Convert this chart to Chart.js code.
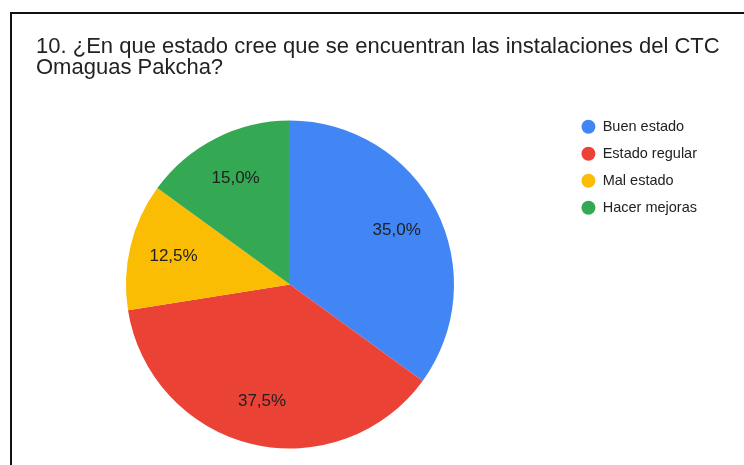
<!DOCTYPE html>
<html>
<head>
<meta charset="utf-8">
<script src="https://cdn.jsdelivr.net/npm/chart.js@4"></script>
<style>
  html, body { margin: 0; padding: 0; background: #fff; }
  #wrap { position: relative; width: 744px; height: 465px; overflow: hidden; }
  /* the frame only shows its top and left edges */
  #frame {
    position: absolute; left: 10px; top: 12px; width: 800px; height: 500px;
    border-top: 2px solid #111; border-left: 2px solid #111;
  }
  #pie { position: absolute; left: 0; top: 0; }
</style>
</head>
<body>
<div id="wrap">
  <div id="frame"></div>
  <canvas id="pie" width="744" height="465"></canvas>
</div>
<script>
var titleLines = [
  '10. ¿En que estado cree que se encuentran las instalaciones del CTC',
  'Omaguas Pakcha?'
];
var categories = ['Buen estado', 'Estado regular', 'Mal estado', 'Hacer mejoras'];
var answers = [14, 15, 5, 6];
var sliceColors = ['#4285F4', '#EA4335', '#FBBC04', '#34A853'];

var fontFamily = 'Arial, "Liberation Sans", sans-serif';

function pctText(value, total) {
  return (value / total * 100).toFixed(1).replace('.', ',') + '%';
}

// percentage written inside each slice
var sliceLabels = {
  id: 'sliceLabels',
  afterDatasetsDraw: function(chart) {
    var ctx = chart.ctx;
    var data = chart.data.datasets[0].data;
    var total = data.reduce(function(a, b) { return a + b; }, 0);
    var arcs = chart.getDatasetMeta(0).data;
    ctx.save();
    ctx.font = '17px ' + fontFamily;
    ctx.fillStyle = '#212121';
    ctx.textAlign = 'center';
    ctx.textBaseline = 'middle';
    for (var i = 0; i < arcs.length; i++) {
      var p = arcs[i].getProps(['x', 'y', 'startAngle', 'endAngle', 'outerRadius'], true);
      var mid = (p.startAngle + p.endAngle) / 2;
      var r = p.outerRadius * 0.73;
      ctx.fillText(pctText(data[i], total), p.x + Math.cos(mid) * r, p.y + Math.sin(mid) * r);
    }
    ctx.restore();
  }
};

// title starts further in than the pie area and may run to the canvas edge
var titleIndent = {
  id: 'titleIndent',
  afterLayout: function(chart) {
    if (chart.titleBlock) {
      chart.titleBlock.left = 36;
      chart.titleBlock.right = chart.width;
    }
  }
};

new Chart(document.getElementById('pie'), {
  type: 'pie',
  data: {
    labels: categories,
    datasets: [{
      data: answers,
      backgroundColor: sliceColors,
      borderWidth: 0,
      radius: 164
    }]
  },
  options: {
    responsive: false,
    animation: false,
    layout: { padding: { left: 11, right: 37, top: 0, bottom: 3 } },
    plugins: {
      title: {
        display: true,
        text: titleLines,
        align: 'start',
        color: '#222',
        font: { family: fontFamily, size: 22, weight: 'normal', lineHeight: 0.955 },
        padding: { top: 36, bottom: 29 }
      },
      legend: {
        position: 'right',
        align: 'start',
        fullSize: false,
        labels: {
          usePointStyle: true,
          pointStyle: 'circle',
          boxHeight: 10,
          pointStyleWidth: 14,
          padding: 12.5,
          color: '#222',
          font: { family: fontFamily, size: 14.5 }
        }
      },
      tooltip: { enabled: false }
    }
  },
  plugins: [sliceLabels, titleIndent]
});
</script>
</body>
</html>
